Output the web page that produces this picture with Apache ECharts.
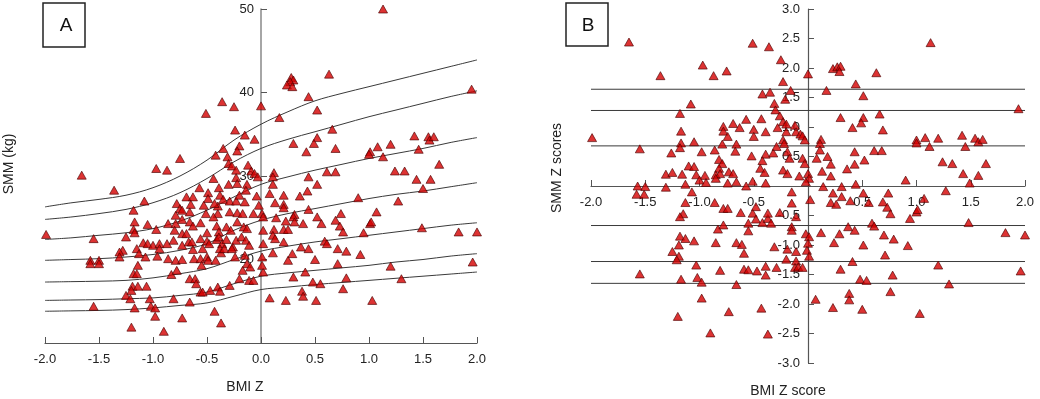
<!DOCTYPE html>
<html>
<head>
<meta charset="utf-8">
<script src="https://cdn.jsdelivr.net/npm/echarts@6.0.0/dist/echarts.min.js"></script>
<style>
  html,body{margin:0;padding:0;background:#fff;}
  #main{width:1040px;height:399px;}
</style>
</head>
<body>
<div id="main"></div>
<script>
// ---- panel A : SMM (kg) vs BMI Z ----
var aX = [
  -1.66,-0.51,-0.36,-0.25,-0.24,-0.15,-0.75,-0.97,-0.87,-0.35,
  -0.42,-0.31,-0.20,-0.22,-0.30,-0.27,-0.12,-0.23,-0.23,-0.44,
  1.13,0.63,0.28,0.30,0.27,0.24,0.29,0.44,1.95,0.00,
  0.52,0.17,0.66,0.52,0.49,0.30,0.42,0.69,-0.06,-0.09,
  -0.06,-0.03,0.12,0.11,0.44,0.61,0.69,1.01,1.00,1.08,
  1.20,1.13,1.42,1.46,1.55,1.56,1.60,1.65,1.24,1.33,
  1.44,1.57,
  -1.36,-1.08,-0.57,-0.49,-0.39,-0.30,-0.22,-0.13,-0.49,-0.69,
  -0.63,-0.38,-0.35,-0.29,-0.23,-0.20,-0.14,-0.15,
  -0.78,-0.75,-0.65,-0.79,-0.73,-0.66,-0.53,-0.51,-0.40,-0.40,
  -0.44,-0.29,-0.22,-0.17,-1.18,-0.43,
  -1.17,-1.05,-0.86,-0.97,-1.18,-1.17,-1.25,-0.79,-0.73,-0.66,
  -0.63,-0.80,-0.73,-0.69,-0.56,-0.50,-0.41,-0.39,-0.32,-0.28,
  -0.22,-0.16,-0.13,
  -1.99,-1.55,-1.09,-1.05,-1.00,-0.94,-0.94,-0.87,-0.81,-0.73,
  -0.67,-0.64,-0.56,-0.54,-0.50,-0.48,-0.41,-0.39,-0.36,-0.32,
  -0.26,-0.23,-0.18,-0.14,-0.11,-1.28,-1.31,-1.15,-0.63,
  -1.58,-1.58,-1.50,-1.50,-1.31,-1.13,-1.07,-0.96,-0.86,-0.79,
  -0.73,-0.62,-0.56,-0.55,-0.50,-0.49,-0.42,-0.37,-0.38,-0.34,
  -0.27,-0.24,-0.15,-0.13,
  -1.18,-1.15,-1.14,-0.83,-0.78,-0.66,-0.61,-0.60,-0.56,-0.54,
  -0.47,-0.40,-0.38,-0.29,-0.20,-0.11,-1.19,-1.14,-1.06,
  -1.25,-1.21,-1.20,-1.17,-1.03,-1.02,-0.98,-0.81,-0.66,-0.98,
  -0.73,-0.43,-0.37,-1.20,-0.90,-1.55,
  0.52,0.43,0.36,0.21,0.11,0.08,-0.04,-0.02,0.13,0.21,
  0.21,0.01,-0.07,0.44,0.52,0.56,0.31,0.30,0.39,0.31,
  0.23,0.14,0.02,0.02,0.12,0.11,0.13,0.21,0.25,0.21,
  0.37,0.44,0.29,0.25,0.11,0.02,0.01,-0.10,-0.07,0.02,
  0.01,0.41,0.30,0.50,0.71,0.71,0.79,0.92,0.59,0.61,
  0.69,0.73,0.76,0.74,0.90,1.07,1.01,1.02,0.95,1.27,
  1.50,1.49,1.83,2.00,1.96,1.20,1.30,0.79,0.76,0.48,
  0.55,0.38,0.39,0.08,0.23,0.51,1.03,-0.17
];
var aY = [
  30.1,37.5,38.9,38.3,35.5,34.9,32.1,30.9,30.7,33.3,
  32.5,32.3,33.6,33.0,31.5,31.2,31.3,30.7,29.8,29.7,
  50.0,42.2,41.8,41.5,41.3,40.9,40.7,39.5,40.4,38.4,
  37.9,37.0,35.6,34.6,33.9,33.9,32.9,33.3,34.4,30.6,
  30.3,29.9,30.4,29.9,29.9,30.5,30.5,32.9,32.6,33.5,
  33.8,32.3,34.8,33.2,34.7,34.3,34.7,31.4,30.6,30.6,
  29.6,29.6,
  28.3,27.0,28.6,28.0,28.6,29.0,29.1,29.0,27.3,27.5,
  27.5,27.7,27.2,27.0,27.0,27.7,28.3,26.9,
  26.7,26.1,26.6,25.3,25.9,25.7,26.5,25.5,25.5,26.4,
  25.1,25.7,25.6,25.5,25.9,26.7,
  24.5,24.2,24.3,23.6,23.6,23.2,22.7,24.3,24.8,24.5,
  24.0,23.5,23.1,23.1,24.4,23.2,24.0,23.3,23.9,23.5,
  24.5,23.9,23.7,
  23.0,22.5,22.0,21.9,21.7,21.9,21.3,21.9,22.3,21.7,
  22.1,22.1,22.5,21.3,22.2,21.9,22.4,22.7,21.9,22.4,
  21.5,22.3,22.7,22.3,21.7,21.1,20.9,21.3,21.2,
  19.9,19.5,19.9,19.5,20.3,20.7,20.3,20.4,20.1,19.9,
  20.0,20.1,20.1,19.3,20.3,19.9,19.9,20.8,21.3,21.3,
  21.3,20.3,20.5,19.5,
  18.3,18.3,19.3,18.2,18.7,17.7,17.7,17.1,16.1,16.1,
  16.3,16.7,16.2,16.9,17.7,17.5,16.8,16.8,16.8,
  15.7,15.3,16.3,14.2,15.3,14.4,14.2,15.3,14.9,13.2,
  13.0,13.8,12.4,11.9,11.4,14.4,
  29.0,28.2,27.6,27.7,29.0,27.9,27.6,26.5,26.8,26.6,
  26.2,25.5,25.5,26.0,25.1,24.3,25.4,25.1,24.3,24.5,
  24.6,25.0,25.1,23.5,23.6,22.9,22.5,23.6,23.6,22.1,
  21.5,21.3,20.7,19.9,20.8,21.9,20.3,19.1,17.5,18.5,
  19.3,18.5,17.9,20.0,19.5,21.3,21.0,20.6,22.2,21.9,
  24.7,24.0,23.3,25.5,27.4,25.7,24.3,24.5,23.2,27.0,
  28.5,23.8,23.3,23.3,19.7,19.2,17.7,17.8,16.5,17.3,
  17.1,16.2,15.6,15.4,15.1,15.1,15.1,18.7
];

// centile curves (panel A), read every 0.25 of BMI Z
var curveX = [-2,-1.75,-1.5,-1.25,-1,-0.75,-0.5,-0.25,0,0.25,0.5,0.75,1,1.25,1.5,1.75,2];
var c1 = [26.3,26.8,27.2,27.7,28.6,30.0,31.9,34.3,36.2,37.7,39.0,39.9,40.7,41.5,42.3,43.1,43.9];
var c2 = [24.8,25.1,25.5,26.0,26.8,28.0,29.7,31.7,33.3,34.4,35.3,36.2,37.1,37.9,38.7,39.5,40.2];
var c3 = [22.4,22.6,22.9,23.2,23.7,24.6,25.9,27.5,29.0,29.9,30.7,31.4,32.1,32.7,33.3,34.0,34.6];
var c4 = [19.9,20.0,20.1,20.3,20.6,21.1,21.9,23.5,24.7,25.5,26.1,26.7,27.3,27.8,28.2,28.7,29.2];
var c5 = [17.3,17.35,17.4,17.5,17.8,18.3,18.9,20.0,21.0,21.6,22.1,22.5,22.9,23.3,23.7,24.1,24.4];
var c6 = [15.1,15.15,15.2,15.3,15.4,15.7,16.1,17.1,18.0,18.4,18.7,19.0,19.3,19.7,20.0,20.4,20.7];
var c7 = [13.8,13.85,13.9,14.0,14.2,14.5,14.8,15.6,16.4,16.7,17.0,17.25,17.5,17.75,18.0,18.25,18.5];

// ---- panel B : SMM Z scores vs BMI Z score ----
var bX = [
  -1.65,-0.51,-0.36,-0.97,-1.36,-0.87,-0.75,-0.42,-0.35,-1.08,
  -1.18,-1.99,-0.78,-0.69,-0.63,-0.57,-0.78,-1.17,-0.50,-0.39,
  -0.43,-0.74,-0.50,-1.05,-0.79,-0.66,-1.17,-1.18,-1.55,-1.26,
  -0.98,-0.86,-0.67,-0.52,-0.39,-0.32,-0.82,-0.79,-0.42,-1.10,
  -1.05,-0.82,-0.44,-1.31,-1.25,-1.16,-1.03,-0.95,-0.85,-0.81,
  -0.73,-0.69,-0.40,-1.00,-0.94,-0.85,-0.74,-0.66,-0.51,-1.13,
  -0.57,-0.39,-1.57,-1.50,-1.31,
  -1.58,-1.51,-1.07,-1.13,-0.86,-0.78,-0.74,-0.62,-1.15,-1.18,
  -0.51,-0.48,-0.42,-0.37,-0.37,-0.48,-0.34,-0.83,-0.78,-0.55,
  -0.55,-1.18,-1.13,-1.05,-1.19,-0.85,-0.66,-0.61,-1.25,-1.19,
  -1.21,-0.59,-1.03,-0.81,-0.59,-0.55,-0.47,-0.39,-0.39,-1.55,
  -1.17,-1.02,-0.98,-0.66,-0.98,-0.73,-0.43,-1.20,-0.90,-0.37,
  -0.25,-0.23,-0.16,-0.31,-0.30,-0.21,-0.26,-0.23,-0.28,-0.20,
  -0.20,-0.12,-0.11,-0.07,-0.05,-0.03,-0.23,-0.22,-0.29,-0.19,
  -0.17,-0.05,-0.03,-0.23,-0.19,-0.08,0.00,0.01,-0.02,0.00,
  0.23,0.27,0.30,0.29,0.17,0.30,0.44,0.51,0.51,0.49,
  0.41,0.63,0.66,0.69,0.12,0.11,0.11,0.08,0.18,0.21,
  0.13,0.21,0.36,0.43,0.43,0.52,0.44,0.61,0.68,0.90,
  1.00,1.00,1.08,1.12,1.20,1.24,1.33,1.42,1.45,1.54,
  1.57,1.61,1.64,1.43,1.57,1.49,1.13,1.94,0.31,0.14,
  -0.15,0.02,0.23,0.21,0.26,0.31,0.39,0.51,0.56,0.69,
  0.74,0.73,0.76,0.94,1.00,1.01,1.07,1.27,1.48,1.82,
  2.00,-0.26,-0.15,-0.11,-0.15,-0.15,0.12,-0.02,0.01,0.29,
  0.37,0.43,0.59,0.61,0.70,0.79,0.92,0.51,0.24,-0.19,
  -0.11,0.00,-0.01,0.01,-0.31,-0.20,-0.11,-0.29,-0.12,-0.09,
  -0.05,0.41,0.30,0.71,1.20,1.96,0.48,0.54,0.78,0.76,
  1.30,0.38,0.38,0.07,0.23,0.50,1.03
];
var bY = [
  2.44,2.42,2.36,2.05,1.87,1.87,1.95,1.56,1.59,1.39,
  1.23,0.82,1.01,1.06,0.99,1.13,0.93,0.93,0.96,0.92,
  1.14,0.84,0.84,0.75,0.71,0.71,0.73,0.65,0.63,0.56,
  0.58,0.61,0.59,0.51,0.54,0.56,0.45,0.38,0.43,0.34,
  0.33,0.30,0.30,0.20,0.23,0.20,0.19,0.18,0.19,0.21,
  0.24,0.21,0.23,0.10,0.06,0.13,0.05,0.07,0.08,0.03,
  0.00,0.05,0.00,-0.01,-0.02,
  -0.14,-0.14,-0.10,-0.28,-0.28,-0.38,-0.38,-0.45,-0.47,-0.52,
  -0.46,-0.56,-0.62,-0.55,-0.46,-0.35,-0.63,-0.73,-0.66,-0.63,
  -0.76,-0.85,-0.89,-0.93,-1.00,-0.96,-0.96,-0.99,-1.11,-1.19,
  -1.25,-1.14,-1.34,-1.43,-1.41,-1.42,-1.44,-1.36,-1.51,-1.49,
  -1.58,-1.55,-1.63,-1.67,-1.90,-2.13,-2.07,-2.21,-2.49,-2.51,
  2.14,1.77,1.62,1.40,1.29,1.47,1.19,1.09,0.99,1.05,
  0.92,1.03,0.92,0.88,0.85,0.78,0.78,0.72,0.67,0.58,
  0.47,0.47,0.38,0.27,0.21,0.17,0.21,0.13,0.07,1.90,
  1.99,2.02,2.03,1.94,1.62,1.16,1.73,1.53,1.16,1.07,
  0.99,1.92,1.22,0.95,0.79,0.72,0.61,0.47,0.50,0.37,
  0.25,0.17,0.29,0.58,0.37,0.44,0.03,0.60,0.60,0.10,
  0.78,0.73,0.82,0.67,0.81,0.41,0.38,0.86,0.67,0.81,
  0.75,0.79,0.38,0.21,0.18,0.05,2.43,1.31,-0.01,-0.01,
  -0.10,-0.23,-0.12,-0.28,-0.31,-0.18,-0.25,-0.12,-0.28,-0.27,
  -0.12,-0.36,-0.47,-0.55,-0.44,-0.40,-0.21,-0.08,-0.62,-0.79,
  -0.83,-0.45,-0.29,-0.52,-0.69,-0.75,-0.79,-0.81,-0.86,-0.81,
  -0.69,-0.75,-0.63,-0.68,-0.83,-0.90,-1.01,-1.00,-0.96,-1.07,
  -1.11,-0.97,-1.09,-1.19,-1.03,-1.24,-1.27,-1.38,-1.38,-1.37,
  -1.38,-1.28,-1.41,-1.17,-1.34,-1.44,-1.58,-1.60,-1.51,-1.79,
  -1.66,-1.82,-1.93,-1.92,-2.06,-2.09,-2.16
];
// centile reference lines in panel B (z values)
var refZ = [1.64, 1.28, 0.68, -0.67, -1.28, -1.65];

var FONT = '"Liberation Sans", Arial, sans-serif';

function pairs(xs, ys){
  var out = [];
  for (var i = 0; i < xs.length; i++) out.push([xs[i], ys[i]]);
  return out;
}

var myChart = echarts.init(document.getElementById('main'), null, {renderer:'canvas'});

var series = [];
// curves A
[c1, c2, c3, c4, c5, c6, c7].forEach(function(c){
  series.push({
    type:'line', xAxisIndex:0, yAxisIndex:0,
    data: pairs(curveX, c),
    smooth:0.35, symbol:'none', silent:true,
    lineStyle:{color:'#3a3a3a', width:1}
  });
});
// ref lines B
refZ.forEach(function(z){
  series.push({
    type:'line', xAxisIndex:1, yAxisIndex:1,
    data:[[-2, z], [2, z]],
    symbol:'none', silent:true,
    lineStyle:{color:'#3a3a3a', width:1}
  });
});
var triStyle = {color:'#d40000', borderColor:'#4a0000', borderWidth:0.8};
series.push({
  type:'scatter', xAxisIndex:0, yAxisIndex:0,
  data: pairs(aX, aY), symbol:'triangle', symbolSize:[9,8],
  itemStyle: triStyle, z:5
});
series.push({
  type:'scatter', xAxisIndex:1, yAxisIndex:1,
  data: pairs(bX, bY), symbol:'triangle', symbolSize:[9,8],
  itemStyle: triStyle, z:5
});

var lblStyle = {fontFamily:FONT, fontSize:13, color:'#222'};

// the axes sit on zero of the other axis: move them with offset
var option = {
  animation:false,
  backgroundColor:'#fff',
  grid:[
    {left:45, right:563, top:9, bottom:56},
    {left:591, right:15, top:9, bottom:36}
  ],
  xAxis:[
    {type:'value', gridIndex:0, min:-2, max:2, interval:0.5,
     axisLine:{onZero:false, lineStyle:{color:'#555', width:1.2}},
     axisTick:{inside:true, length:6, lineStyle:{color:'#555'}},
     axisLabel:Object.assign({margin:10, formatter:function(v){return v.toFixed(1);}}, lblStyle),
     splitLine:{show:false}},
    {type:'value', gridIndex:1, min:-2, max:2, interval:0.5, position:'bottom', offset:-177,
     axisLine:{onZero:false, lineStyle:{color:'#555', width:1.2}},
     axisTick:{inside:true, length:6, lineStyle:{color:'#555'}},
     axisLabel:Object.assign({margin:10, formatter:function(v){return v === 0 ? '' : v.toFixed(1);}}, lblStyle),
     splitLine:{show:false}}
  ],
  yAxis:[
    {type:'value', gridIndex:0, min:10, max:50, interval:10, position:'left', offset:-216,
     axisLine:{show:true, onZero:false, lineStyle:{color:'#888', width:1.5}},
     axisTick:{show:true, inside:true, length:6, lineStyle:{color:'#555'}},
     axisLabel:Object.assign({margin:7, formatter:function(v){return v === 10 ? '' : v;}}, lblStyle),
     splitLine:{show:false}},
    {type:'value', gridIndex:1, min:-3, max:3, interval:0.5, position:'left', offset:-217,
     axisLine:{show:true, onZero:false, lineStyle:{color:'#555', width:1.2}},
     axisTick:{show:true, inside:true, length:6, lineStyle:{color:'#555'}},
     axisLabel:Object.assign({margin:8, formatter:function(v){return v === 0 ? '' : v.toFixed(1);}}, lblStyle),
     splitLine:{show:false}}
  ],
  graphic:[
    // panel tags
    {type:'rect', shape:{x:43, y:3, width:42, height:44}, style:{fill:'#fff', stroke:'#222', lineWidth:1.5}},
    {type:'text', x:66, y:26, style:{text:'A', font:'19px ' + FONT, fill:'#111', align:'center', verticalAlign:'middle', textAlign:'center', textVerticalAlign:'middle'}},
    {type:'rect', shape:{x:566, y:3, width:42, height:43}, style:{fill:'#fff', stroke:'#222', lineWidth:1.5}},
    {type:'text', x:588, y:26, style:{text:'B', font:'19px ' + FONT, fill:'#111', align:'center', verticalAlign:'middle', textAlign:'center', textVerticalAlign:'middle'}},
    // axis titles
    {type:'text', x:9, y:164, rotation:Math.PI/2, style:{text:'SMM (kg)', font:'14px ' + FONT, fill:'#222', align:'center', verticalAlign:'middle', textAlign:'center', textVerticalAlign:'middle'}},
    {type:'text', x:245, y:387, style:{text:'BMI Z', font:'14px ' + FONT, fill:'#222', align:'center', verticalAlign:'middle', textAlign:'center', textVerticalAlign:'middle'}},
    {type:'text', x:557, y:168, rotation:Math.PI/2, style:{text:'SMM Z scores', font:'14px ' + FONT, fill:'#222', align:'center', verticalAlign:'middle', textAlign:'center', textVerticalAlign:'middle'}},
    {type:'text', x:788, y:391, style:{text:'BMI Z score', font:'14px ' + FONT, fill:'#222', align:'center', verticalAlign:'middle', textAlign:'center', textVerticalAlign:'middle'}}
  ],
  series: series
};
myChart.setOption(option);
</script>
</body>
</html>
